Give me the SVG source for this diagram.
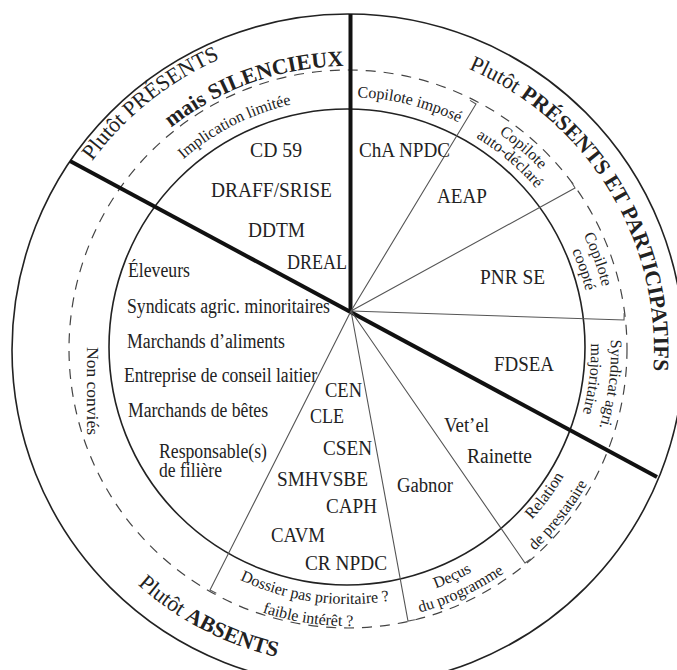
<svg xmlns="http://www.w3.org/2000/svg" width="677" height="670" viewBox="0 0 677 670">
<style>
text{font-family:"Liberation Serif","DejaVu Serif","Times New Roman",Tinos,serif;fill:#222}
.lb{font-size:20px}
.sm{font-size:16px}
.big{font-size:22px}
.b{font-weight:bold}
.ring{fill:none;stroke:#222;stroke-width:1.6}
.dash{fill:none;stroke:#444;stroke-width:1.2;stroke-dasharray:10 8}
.thick{stroke:#111;stroke-width:4;stroke-linecap:butt}
.spoke{stroke:#555;stroke-width:1.1;fill:none}
</style>
<defs>
<path id="pTL1" d="M 92 161.3 A 318 318 0 0 1 507 74.6"/>
<path id="pTL2" d="M 171.2 127.7 A 284 284 0 0 1 490 104.1"/>
<path id="pTR" d="M 468.5 68.8 A 306 306 0 0 1 613 503"/>
<path id="pB" d="M 137.6 584.5 A 315 315 0 0 0 505.5 622.8"/>
<path id="pImpl" d="M 183.3 159.2 A 252 252 0 0 1 391.8 101.8"/>
<path id="pCimp" d="M 357.3 97.2 A 253 253 0 0 1 510.6 156.2"/>
<path id="pCad1" d="M 499 133.5 A 264 264 0 0 1 576.6 218"/>
<path id="pCad2" d="M 476.1 137.6 A 248 248 0 0 1 562.8 226"/>
<path id="pCco1" d="M 583.5 235.1 A 262 262 0 0 1 610 350"/>
<path id="pCco2" d="M 572 250.7 A 245 245 0 0 1 593 350"/>
<path id="pSyn1" d="M 610.8 339.9 A 263 263 0 0 1 575.8 481.5"/>
<path id="pSyn2" d="M 590.9 343.6 A 243 243 0 0 1 558.4 471.5"/>
<path id="pRel1" d="M 531.7 519.6 A 250 250 0 0 0 594.2 393.4"/>
<path id="pRel2" d="M 534.5 550.7 A 274 274 0 0 0 617.8 397.6"/>
<path id="pDec1" d="M 435.7 588.4 A 254 254 0 0 0 542.6 513.3"/>
<path id="pDec2" d="M 419.8 612.4 A 272 272 0 0 0 556.4 524.8"/>
<path id="pDos1" d="M 239.8 579.8 A 254 254 0 0 0 475 570"/>
<path id="pDos2" d="M 262.2 612.3 A 276 276 0 0 0 486 589"/>
</defs>
<rect width="677" height="670" fill="#fff"/>

<g id="rings">
<circle class="ring" cx="348" cy="350" r="336"/>
<circle class="dash" cx="348" cy="349" r="279"/>
<circle class="ring" cx="347" cy="347" r="238"/>
</g>

<g id="connectors">
<line class="thick" x1="350.5" y1="313" x2="350.5" y2="14"/>
<line class="thick" x1="70" y1="161" x2="657" y2="477"/>
<polyline class="spoke" points="351,311 476,104 470,100.4"/>
<polyline class="spoke" points="351,311 575,188 571.6,181.9"/>
<polyline class="spoke" points="351,311 624,320 624.2,313"/>
<polyline class="spoke" points="351,311 525,563 530.8,559"/>
<polyline class="spoke" points="351,311 408,621 414.9,619.7"/>
<polyline class="spoke" points="351,311 210,590 216.3,593.2"/>
</g>

<g id="outer-labels" font-family="'Liberation Serif','DejaVu Serif',serif">
<text class="big"><textPath href="#pTL1">Plutôt PRÉSENTS</textPath><textPath href="#pTL2" class="b">mais SILENCIEUX</textPath></text>
<text class="big"><textPath href="#pTR">Plutôt <tspan class="b">PRÉSENTS ET PARTICIPATIFS</tspan></textPath></text>
<text class="big"><textPath href="#pB">Plutôt <tspan class="b">ABSENTS</tspan></textPath></text>
</g>

<g id="sector-silencieux" font-family="'Liberation Serif','DejaVu Serif',serif">
<text class="sm"><textPath href="#pImpl">Implication limitée</textPath></text>
<text class="lb" x="250" y="157" textLength="52" lengthAdjust="spacingAndGlyphs">CD 59</text>
<text class="lb" x="211" y="197" textLength="121" lengthAdjust="spacingAndGlyphs">DRAFF/SRISE</text>
<text class="lb" x="248" y="237" textLength="57" lengthAdjust="spacingAndGlyphs">DDTM</text>
<text class="lb" x="287" y="269" textLength="60" lengthAdjust="spacingAndGlyphs">DREAL</text>
</g>

<g id="sector-copilote-impose" font-family="'Liberation Serif','DejaVu Serif',serif">
<text class="sm"><textPath href="#pCimp">Copilote imposé</textPath></text>
<text class="lb" x="359" y="157" textLength="91" lengthAdjust="spacingAndGlyphs">ChA NPDC</text>
</g>

<g id="sector-copilote-autodeclare" font-family="'Liberation Serif','DejaVu Serif',serif">
<text class="sm"><textPath href="#pCad1">Copilote</textPath><textPath href="#pCad2">auto-déclaré</textPath></text>
<text class="lb" x="437" y="203" textLength="50" lengthAdjust="spacingAndGlyphs">AEAP</text>
</g>

<g id="sector-copilote-coopte" font-family="'Liberation Serif','DejaVu Serif',serif">
<text class="sm"><textPath href="#pCco1">Copilote</textPath><textPath href="#pCco2">coopté</textPath></text>
<text class="lb" x="480" y="284" textLength="65" lengthAdjust="spacingAndGlyphs">PNR SE</text>
</g>

<g id="sector-syndicat" font-family="'Liberation Serif','DejaVu Serif',serif">
<text class="sm"><textPath href="#pSyn1">Syndicat agri.</textPath><textPath href="#pSyn2">majoritaire</textPath></text>
<text class="lb" x="494" y="371" textLength="60" lengthAdjust="spacingAndGlyphs">FDSEA</text>
</g>

<g id="sector-prestataire" font-family="'Liberation Serif','DejaVu Serif',serif">
<text class="sm"><textPath href="#pRel1">Relation</textPath><textPath href="#pRel2">de prestataire</textPath></text>
<text class="lb" x="444" y="432" textLength="45" lengthAdjust="spacingAndGlyphs">Vet’el</text>
<text class="lb" x="467" y="463" textLength="65" lengthAdjust="spacingAndGlyphs">Rainette</text>
</g>

<g id="sector-decus" font-family="'Liberation Serif','DejaVu Serif',serif">
<text class="sm"><textPath href="#pDec1">Deçus</textPath><textPath href="#pDec2">du programme</textPath></text>
<text class="lb" x="397" y="492" textLength="56" lengthAdjust="spacingAndGlyphs">Gabnor</text>
</g>

<g id="sector-dossier" font-family="'Liberation Serif','DejaVu Serif',serif">
<text class="sm"><textPath href="#pDos1">Dossier pas prioritaire ?</textPath><textPath href="#pDos2">faible intérêt ?</textPath></text>
<text class="lb" x="325" y="397" textLength="37" lengthAdjust="spacingAndGlyphs">CEN</text>
<text class="lb" x="310" y="423" textLength="34" lengthAdjust="spacingAndGlyphs">CLE</text>
<text class="lb" x="323" y="455" textLength="49" lengthAdjust="spacingAndGlyphs">CSEN</text>
<text class="lb" x="277" y="486" textLength="91" lengthAdjust="spacingAndGlyphs">SMHVSBE</text>
<text class="lb" x="326" y="513" textLength="51" lengthAdjust="spacingAndGlyphs">CAPH</text>
<text class="lb" x="271" y="542" textLength="54" lengthAdjust="spacingAndGlyphs">CAVM</text>
<text class="lb" x="305" y="570" textLength="82" lengthAdjust="spacingAndGlyphs">CR NPDC</text>
</g>

<g id="sector-non-convies" font-family="'Liberation Serif','DejaVu Serif',serif">
<text class="sm" transform="translate(87,347) rotate(90)" textLength="88" lengthAdjust="spacingAndGlyphs">Non conviés</text>
<text class="lb" x="128" y="277" textLength="62" lengthAdjust="spacingAndGlyphs">Éleveurs</text>
<text class="lb" x="127" y="313" textLength="203" lengthAdjust="spacingAndGlyphs">Syndicats agric. minoritaires</text>
<text class="lb" x="127" y="348" textLength="158" lengthAdjust="spacingAndGlyphs">Marchands d’aliments</text>
<text class="lb" x="124" y="382" textLength="193" lengthAdjust="spacingAndGlyphs">Entreprise de conseil laitier</text>
<text class="lb" x="128" y="417" textLength="140" lengthAdjust="spacingAndGlyphs">Marchands de bêtes</text>
<text class="lb" x="159" y="458" textLength="108" lengthAdjust="spacingAndGlyphs">Responsable(s)</text>
<text class="lb" x="159" y="477" textLength="63" lengthAdjust="spacingAndGlyphs">de filière</text>
</g>
</svg>
